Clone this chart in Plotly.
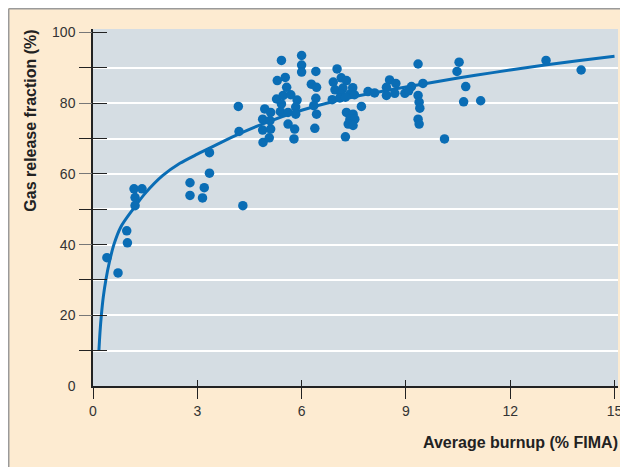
import plotly.graph_objects as go

# ---- data ----
burnup = [0.40, 0.72, 0.97, 0.99, 1.18, 1.41, 1.21, 1.21,
          2.79, 2.79, 3.20, 3.15, 3.35, 3.35, 4.31,
          4.18, 4.20,
          4.89, 5.07, 4.88, 5.11, 4.88, 5.09, 4.94, 5.11,
          5.42, 5.30, 5.53, 5.57, 5.28, 5.47, 5.69, 5.87, 5.42, 5.39, 5.61, 5.83, 5.83, 5.61, 5.80, 5.78,
          6.00, 6.00, 6.00,
          6.41, 6.28, 6.43, 6.41, 6.35, 6.43, 6.38,
          7.02, 6.91, 7.14, 7.29, 6.96, 7.19, 7.14, 7.39, 7.47, 7.52, 6.88, 7.10, 7.26,
          7.72, 7.29, 7.48, 7.39, 7.53, 7.34, 7.48, 7.26,
          7.91, 8.10,
          8.53, 8.71, 8.44, 8.44, 8.68, 8.97, 9.16, 9.49, 9.35, 9.35, 9.38, 9.40, 9.35, 9.38, 9.08,
          10.11, 10.47, 10.53, 10.72, 10.66, 11.15, 13.03, 14.04]
release = [36.3, 32.0, 43.9, 40.5, 55.8, 55.8, 53.3, 51.0,
           57.5, 53.9, 56.1, 53.2, 60.2, 66.0, 51.0,
           79.1, 72.0,
           68.9, 70.2, 72.4, 72.7, 75.5, 75.1, 78.4, 77.4,
           92.1, 86.4, 87.3, 84.5, 81.2, 82.2, 82.4, 80.9, 79.8, 77.6, 77.4, 78.9, 76.9, 74.1, 72.7, 69.9,
           93.5, 90.8, 88.8,
           89.0, 85.4, 84.5, 81.4, 79.3, 76.9, 72.9,
           89.7, 86.0, 87.2, 86.4, 83.8, 84.3, 82.6, 82.6, 84.4, 82.4, 81.0, 81.5, 81.7,
           79.1, 77.4, 76.9, 75.5, 75.5, 74.1, 73.7, 70.5,
           83.3, 82.9,
           86.6, 85.6, 84.5, 82.2, 82.8, 82.8, 84.7, 85.6, 91.1, 82.2, 80.3, 78.6, 75.5, 74.1, 83.5,
           69.9, 89.0, 91.6, 84.7, 80.4, 80.7, 92.1, 89.4]

fit_x = [0.17, 0.20, 0.24, 0.30, 0.37, 0.47, 0.60, 0.80, 1.15, 1.5, 2.0, 2.5, 3.0, 3.5,
         4.2, 5.0, 6.0, 7.0, 8.0, 9.0, 10.0, 11.0, 12.0, 13.0, 14.0, 15.0]
fit_y = [10, 15, 20, 25.5, 30, 35, 40, 45, 50, 54.5, 59.5, 63, 65.6, 68.0,
         71.3, 74.6, 78.0, 80.7, 82.8, 84.6, 86.3, 87.9, 89.4, 90.8, 92.1, 93.3]

x_ticks = [0, 3, 6, 9, 12, 15]
y_label_ticks = [0, 20, 40, 60, 80, 100]
y_major_ticks = [20, 40, 60, 80, 100]
y_minor_ticks = [10, 30, 50, 70, 90]
y_all_ticks = [10, 20, 30, 40, 50, 60, 70, 80, 90, 100]
grid_ticks = [10, 20, 30, 40, 50, 60, 70, 80, 90]

BLUE = "#0a6db5"
PEACH = "#fdebd1"
PLOTBG = "#d5dde3"
DARK = "#222222"
FONT = "Liberation Sans, Arial, sans-serif"

XR = [0, 15.1]
YR = [0, 101]

fig = go.Figure()
# empty helper traces so that the overlay axes (extra ticks / grid) get drawn
for ya in ["y2", "y3", "y4", "y5"]:
    fig.add_trace(go.Scatter(x=[], y=[], yaxis=ya, xaxis="x", mode="markers",
                             hoverinfo="skip", showlegend=False))
fig.add_trace(go.Scatter(x=[], y=[], xaxis="x2", yaxis="y", mode="markers",
                         hoverinfo="skip", showlegend=False))
fig.add_trace(go.Scatter(x=fit_x, y=fit_y, mode="lines",
                         line=dict(color=BLUE, width=3, shape="spline", smoothing=0.8),
                         hoverinfo="skip", showlegend=False))
fig.add_trace(go.Scatter(x=burnup, y=release, mode="markers",
                         marker=dict(color=BLUE, size=9.5, line=dict(width=0)),
                         showlegend=False))

common = dict(fixedrange=True, zeroline=False, automargin=False)

# the page body adds an 8px margin, so the figure is 8px smaller and the
# margins are reduced by 8px on the left/top
fig.update_layout(
    template="none",
    width=620, height=459,
    margin=dict(l=85, r=10, t=21, b=81, pad=0),
    paper_bgcolor=PEACH,
    plot_bgcolor=PLOTBG,
    font=dict(family=FONT, size=14, color="#333333"),
    showlegend=False,
    xaxis=dict(range=XR, tickvals=x_ticks, ticks="outside", ticklen=11, tickwidth=1.2,
               tickcolor=DARK, showline=True, linecolor=DARK, linewidth=1.5,
               showgrid=False, tickfont=dict(size=14, color="#333333"), **common),
    xaxis2=dict(range=XR, overlaying="x", anchor="y", tickvals=x_ticks, ticks="inside", ticklen=6,
                tickwidth=1.2, tickcolor=DARK, showticklabels=False, showline=False,
                showgrid=False, **common),
    yaxis=dict(range=YR, tickvals=y_label_ticks, ticks="", ticklabelstandoff=13,
               showline=True, linecolor=DARK, linewidth=1.5, showgrid=False,
               tickfont=dict(size=14, color="#333333"), **common),
    yaxis2=dict(range=YR, overlaying="y", anchor="x", side="left", tickvals=y_major_ticks,
                ticks="outside", ticklen=13, tickwidth=1.2, tickcolor="#777777",
                showticklabels=False, showline=False, showgrid=False, **common),
    yaxis3=dict(range=YR, overlaying="y", anchor="x", side="left", tickvals=y_minor_ticks,
                ticks="outside", ticklen=13, tickwidth=1.2, tickcolor=DARK,
                showticklabels=False, showline=False, showgrid=False, **common),
    yaxis4=dict(range=YR, overlaying="y", anchor="x", side="left", tickvals=grid_ticks,
                ticks="", showticklabels=False, showline=False, showgrid=True,
                gridcolor="white", gridwidth=2, **common),
    yaxis5=dict(range=YR, overlaying="y", anchor="x", side="left", tickvals=y_all_ticks,
                ticks="inside", ticklen=14, tickwidth=1.2, tickcolor=DARK,
                showticklabels=False, showline=False, showgrid=False, **common),
    shapes=[
        # frame edges (left / top) of the peach panel
        dict(type="line", xref="paper", yref="paper", x0=-0.1605, x1=-0.1605, y0=-0.4, y1=1.0569,
             line=dict(color="#9a9a9a", width=1.5), layer="above"),
        dict(type="line", xref="paper", yref="paper", x0=-0.1605, x1=1.2, y0=1.0569, y1=1.0569,
             line=dict(color="#9a9a9a", width=1.5), layer="above"),
    ],
    annotations=[
        dict(text="<b>Gas release fraction (%)</b>", textangle=-90, xref="paper", yref="paper",
             x=-0.1206, y=1.0028, xanchor="center", yanchor="top", showarrow=False,
             font=dict(family=FONT, size=16, color="#222222")),
        dict(text="<b>Average burnup (% FIMA)</b>", xref="paper", yref="paper",
             x=1.003, y=-0.157, xanchor="right", yanchor="middle", showarrow=False,
             font=dict(family=FONT, size=16, color="#222222")),
    ],
)

fig.write_html("out.html")
